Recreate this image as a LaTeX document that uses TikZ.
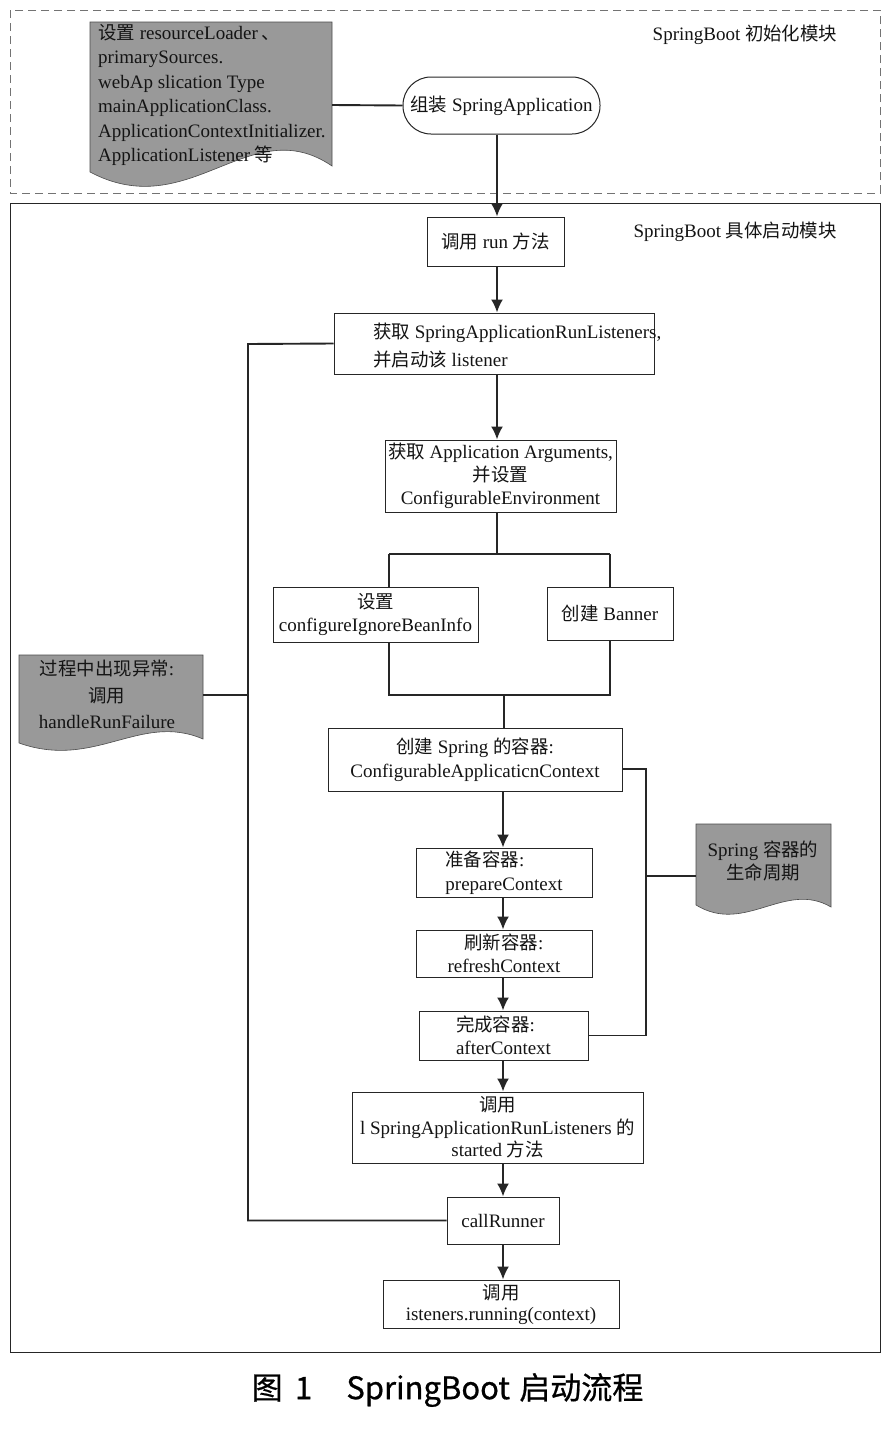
\documentclass[tikz,border=0pt]{standalone}
\usepackage{fontspec}
\setmainfont{Liberation Serif}
\newfontfamily\zhfont{Noto Sans CJK SC}[Scale=0.97]
\newfontfamily\capfont{Noto Sans CJK SC}[FakeBold=0.6]
\newcommand\zh[1]{{\zhfont #1}}
\usetikzlibrary{arrows.meta}
\begin{document}
\begin{tikzpicture}[x=1pt,y=-1pt,
  every node/.style={font=\fontsize{19}{23.5}\selectfont, text=black!92},
  box/.style={draw=black!85, line width=1pt, fill=white, inner sep=0pt, align=center},
  conn/.style={line width=1.9pt, draw=black!85},
  thinconn/.style={line width=1.3pt, draw=black!85},
  arr/.style={conn, -{Latex[length=13pt,width=12pt]}},
  docfill/.style={draw=black!70, line width=0.6pt, fill=black!40},
  frameA/.style={draw=black!55, line width=0.9pt, dash pattern=on 8pt off 5pt},
  frameB/.style={draw=black!85, line width=0.9pt},
]
\useasboundingbox (0,0) rectangle (889,1440);
\fill[white] (0,0) rectangle (889,1440);

% frames
\draw[frameA] (10,10) rectangle (880,193);
\draw[frameB] (10,203) rectangle (880,1352);
\node (lab1) at (745,35) {SpringBoot \zh{初始化模块}};
\node (lab2) at (735,232) {SpringBoot \zh{具体启动模块}};

% top document shape
\draw[docfill] (90,22) -- (332,22) -- (332,166) .. controls (250,110) and (190,225) .. (90,172) -- cycle;
\node[anchor=west, align=left, inner sep=0pt, font=\fontsize{19}{24.5}\selectfont] (doc1) at (98,95)
  {\zh{设置} resourceLoader\,\zh{、}\\ primarySources.\\ webAp slication Type\\ mainApplicationClass.\\ ApplicationContextInitializer.\\ ApplicationListener \zh{等}};
\coordinate (d1) at (332,105);

% terminator
\node[box, rounded corners=28pt, minimum width=197pt, minimum height=57pt] (term) at (501.5,105.5) {\zh{组装} SpringApplication};
\draw[conn] (d1) -- (term.west);

\coordinate (sp) at (497,0);
\coordinate (sp2) at (503,0);

\node[box, minimum width=137pt, minimum height=49pt] (run) at (495.5,241.5) {\zh{调用} run \zh{方法}};
\draw[arr] (term.south -| sp) -- (run.north -| sp);

\node[box, minimum width=320pt, minimum height=61pt] (lis) at (494,343.5) {};
\node[anchor=west, align=left, inner sep=0pt, font=\fontsize{19}{28}\selectfont] (listxt) at (373,346)
  {\zh{获取} SpringApplicationRunListeners,\\ \zh{并启动该} listener};
\draw[arr] (run.south -| sp) -- (lis.north -| sp);

\node[box, minimum width=231pt, minimum height=72pt, font=\fontsize{19}{23}\selectfont] (args) at (500.5,476)
  {\zh{获取} Application\ Arguments,\\ \zh{并设置}\\ ConfigurableEnvironment};
\draw[arr] (lis.south -| sp) -- (args.north -| sp);

% branch
\coordinate (bl) at (389,554);
\coordinate (br) at (610,554);
\draw[conn] (args.south -| sp) -- (sp |- bl);
\draw[conn] (bl) -- (br);
\node[box, minimum width=205pt, minimum height=55pt] (cfg) at (375.5,614.5) {\zh{设置}\\ configureIgnoreBeanInfo};
\node[box, minimum width=126pt, minimum height=53pt] (ban) at (610,613.5) {\zh{创建} Banner};
\draw[conn] (bl) -- (bl |- cfg.north);
\draw[conn] (br) -- (br |- ban.north);
\coordinate (jl) at (389,695);
\coordinate (jr) at (610,695);
\coordinate (jm) at (504,695);
\draw[conn] (cfg.south -| jl) -- (jl) -- (jr) -- (ban.south -| jr);

\node[box, minimum width=294pt, minimum height=63pt] (ctx) at (475,759.5) {\zh{创建} Spring \zh{的容器}:\\ ConfigurableApplicaticnContext};
\draw[conn] (jm) -- (jm |- ctx.north);

\node[box, minimum width=176pt, minimum height=49pt, align=left] (prep) at (504,872.5) {\zh{准备容器}:\\ prepareContext};
\node[box, minimum width=176pt, minimum height=47pt] (ref) at (504,953.5) {\zh{刷新容器}:\\ refreshContext};
\node[box, minimum width=169pt, minimum height=49pt, align=left] (aft) at (503.5,1035.5) {\zh{完成容器}:\\ afterContext};
\draw[arr] (ctx.south -| sp2) -- (prep.north -| sp2);
\draw[arr] (prep.south -| sp2) -- (ref.north -| sp2);
\draw[arr] (ref.south -| sp2) -- (aft.north -| sp2);

% lifecycle bracket
\coordinate (r1) at (646,769);
\draw[thinconn] (ctx.east |- r1) -- (r1) -- (r1 |- aft.east) -- (aft.east);
\draw[docfill] (696,824) -- (831,824) -- (831,907) .. controls (785,880) and (745,935) .. (696,905) -- cycle;
\node[align=center, inner sep=0pt, font=\fontsize{19}{23}\selectfont] (sdoctxt) at (763,860.5) {Spring \zh{容器的}\\ \zh{生命周期}};
\coordinate (sdoc) at (696,876);
\draw[conn] (r1 |- sdoc) -- (sdoc);

\node[box, minimum width=291pt, minimum height=71pt, font=\fontsize{19}{22.5}\selectfont] (sta) at (497.5,1127.5)
  {\zh{调用}\\ l SpringApplicationRunListeners \zh{的}\\ started \zh{方法}};
\draw[arr] (aft.south -| sp2) -- (sta.north -| sp2);

\node[box, minimum width=112pt, minimum height=47pt] (cr) at (503,1220.5) {callRunner};
\draw[arr] (sta.south -| sp2) -- (cr.north -| sp2);

\node[box, minimum width=236pt, minimum height=48pt, font=\fontsize{19}{21}\selectfont] (last) at (501,1304) {\zh{调用}\\ isteners.running(context)};
\draw[arr] (cr.south -| sp2) -- (last.north -| sp2);

% left feedback
\coordinate (L) at (248,344);
\draw[conn] (lis.west) -- (L) -- (L |- cr.west) -- (cr.west);

\draw[docfill] (19,655) -- (203,655) -- (203,739) .. controls (140,712) and (95,770) .. (19,743) -- cycle;
\node[align=center, inner sep=0pt, font=\fontsize{19}{26.5}\selectfont] (edtxt) at (107,694.5)
  {\zh{过程中出现异常}:\\ \zh{调用}\\ handleRunFailure};
\coordinate (ed) at (203,695);
\draw[thinconn] (ed) -- (ed -| L);

% caption
\node[font=\capfont\fontsize{31}{33}\selectfont, text=black] (cap) at (447.5,1390) {图\hspace{0.4em}1\hspace{1.1em}SpringBoot\hspace{0.3em}启动流程};
\end{tikzpicture}
\end{document}
